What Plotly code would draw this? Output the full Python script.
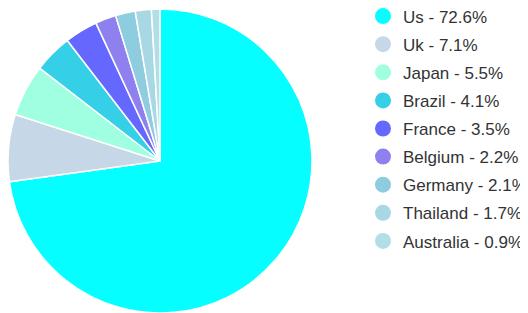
import plotly.graph_objects as go

countries = ["Us", "Uk", "Japan", "Brazil", "France", "Belgium", "Germany", "Thailand", "Australia"]
shares = [72.6, 7.1, 5.5, 4.1, 3.5, 2.2, 2.1, 1.7, 0.9]
colors = ["#05FEFF", "#C6D7E7", "#9FFFE0", "#36CFE8", "#6468FF", "#8E80EF", "#8ECDE0", "#A8D8E4", "#B2DFE6"]

W, H = 520, 305  # page body has an 8px margin inside the 528x313 window

fig = go.Figure()
fig.add_trace(go.Pie(
    labels=countries, values=shares, sort=False, direction="clockwise", rotation=0,
    marker=dict(colors=colors, line=dict(color="white", width=1.5)),
    textinfo="none", hoverinfo="label+percent", showlegend=False,
    domain=dict(x=[0, 304/W], y=[0, 304/H]),
))
for c, s, col in zip(countries, shares, colors):
    fig.add_trace(go.Scatter(
        x=[None], y=[None], mode="markers", name=f"{c} - {s}%", legendgroup=c,
        marker=dict(symbol="circle", size=17, color=col), showlegend=True,
    ))

fig.update_layout(
    width=W, height=H, margin=dict(l=0, r=0, t=0, b=0, autoexpand=False),
    paper_bgcolor="white", plot_bgcolor="white",
    xaxis=dict(visible=False), yaxis=dict(visible=False),
    legend=dict(x=355/W, y=1.031, xanchor="left", yanchor="top",
                font=dict(family="Liberation Sans, Arial", size=17, color="#333333"),
                itemsizing="trace", tracegroupgap=3, bgcolor="rgba(0,0,0,0)",
                maxheight=400),
)
fig.write_html("out.html")
